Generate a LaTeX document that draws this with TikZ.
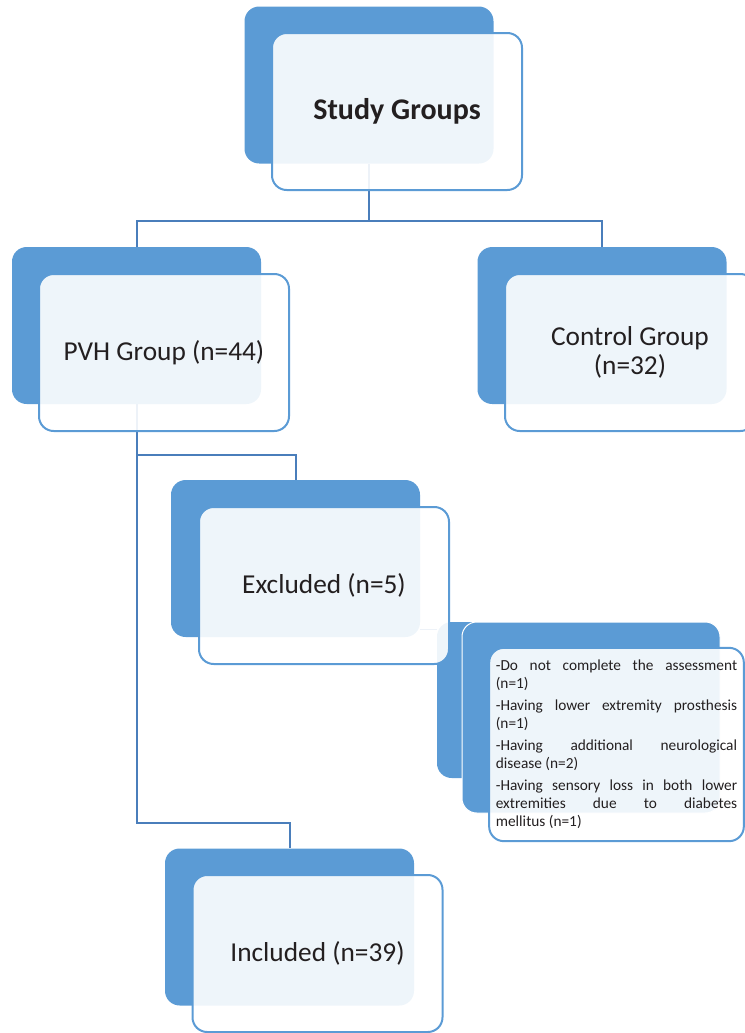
\documentclass[tikz,border=0pt]{standalone}
\usepackage{fontspec}
\setmainfont{Carlito}
\usepackage{xcolor}
\usepackage{tikz}
\definecolor{box_blue}{HTML}{5B9BD5}
\definecolor{link_blue}{HTML}{4A7EBB}
\definecolor{text_grey}{HTML}{231F20}

\begin{document}
\begin{tikzpicture}[x=0.75pt, y=-0.75pt,
    every node/.style={font=\fontsize{20.5}{22}\selectfont, text=text_grey},
    backbox/.style={fill=box_blue, rounded corners=11pt, inner sep=0pt,
      minimum width=186.75pt, minimum height=117.75pt},
    frontbox/.style={draw=box_blue, line width=1.5pt, fill=white, fill opacity=0.9,
      text opacity=1, rounded corners=11pt, inner sep=0pt, align=center,
      minimum width=187.5pt, minimum height=117.75pt},
    link/.style={draw=link_blue, line width=1.5pt}]

    \useasboundingbox (0,0) rectangle (745,1033);

    % blue boxes behind
    \node[backbox] (studyback) at (369,85) {};
    \node[backbox] (pvhback) at (136.5,325.5) {};
    \node[backbox] (controlback) at (602,325.5) {};
    \node[backbox] (exclback) at (295.5,558.5) {};
    \node[backbox] (inclback) at (289.5,927) {};

    % connectors, seen faintly through the front boxes
    \draw[link] (studyback.south) -- ++(0,57) coordinate (fork) -| (pvhback.north);
    \draw[link] (fork) -| (controlback.north);
    \draw[link] (pvhback.south) -- ++(0,51) -| (exclback.north);
    \draw[link] (pvhback.south) -- ++(0,419) -| (inclback.north);

    \node[backbox, minimum width=187.5pt, minimum height=117pt] (detailA) at (562,700) {};
    \coordinate (exclout) at ([yshift=-53pt]exclback.east);
    \draw[link, line width=1pt] (exclout) -- (exclout -| detailA.west);

    % front boxes
    \node[frontbox, font=\fontsize{22.5}{24}\selectfont\bfseries] (study) at (397,111.5) {Study Groups};
    \node[frontbox] (pvh) at (164,352.5) {PVH Group (n=44)};
    \node[frontbox] (control) at (630,352.5) {Control Group\\(n=32)};
    \node[frontbox] (excl) at (324,585.5) {Excluded (n=5)};
    \node[frontbox] (incl) at (317.5,953.5) {Included (n=39)};

    % reasons for exclusion
    \node[backbox, draw=white, line width=0.75pt, minimum width=193.5pt, minimum height=143.25pt]
      (detailB) at (591,717.5) {};
    \node[frontbox, minimum width=191pt, minimum height=145pt, align=justify, text width=181pt,
      font=\fontsize{11.5}{13.5}\selectfont] (detail) at (616.5,744.5)
      {-Do not complete the assessment (n=1)\\[3pt]
       -Having lower extremity prosthesis (n=1)\\[3pt]
       -Having additional neurological\linebreak disease (n=2)\\[3pt]
       -Having sensory loss in both lower\linebreak extremities due to diabetes\linebreak mellitus (n=1)};

  \end{tikzpicture}
\end{document}
